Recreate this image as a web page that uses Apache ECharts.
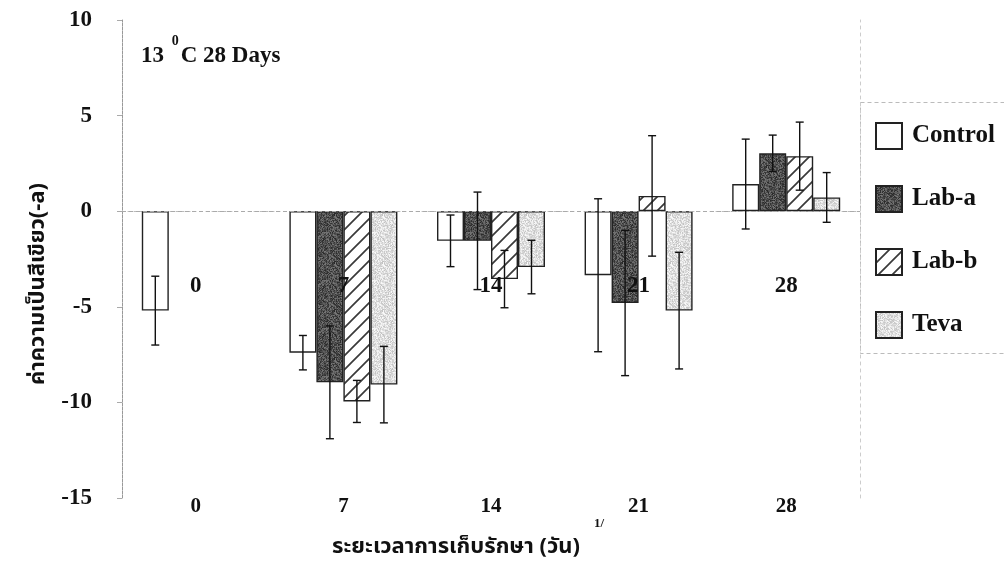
<!DOCTYPE html>
<html>
<head>
<meta charset="utf-8">
<script src="https://cdn.jsdelivr.net/npm/echarts@6/dist/echarts.min.js"></script>
<style>
  html, body { margin: 0; padding: 0; background: #fff; }
  #chart { width: 1004px; height: 566px; }
</style>
</head>
<body>
<div id="chart"></div>
<script>
// Storage days (category axis)
const days = ['0', '7', '14', '21', '28'];
// Greenness (-a) means and standard deviations per treatment
const control    = [-5.2, -7.4, -1.55, -3.35, 1.42];
const controlErr = [1.8, 0.9, 1.35, 4.0, 2.35];
const labA       = [null, -8.95, -1.55, -4.8, 3.03];
const labAErr    = [null, 2.95, 2.55, 3.8, 0.95];
const labB       = [null, -9.95, -3.55, 0.8, 2.88];
const labBErr    = [null, 1.1, 1.5, 3.15, 1.78];
const teva       = [null, -9.07, -2.92, -5.2, 0.72];
const tevaErr    = [null, 2.0, 1.4, 3.05, 1.3];
// Value-axis ticks
const yMin = -15, yMax = 10, yStep = 5;
// Day labels repeated inside the plot
const innerLabels = ['0', '7', '14', '21', '28'];

const SERIF = '"Liberation Serif", "Times New Roman", serif';
const THAI = '"Noto Sans Thai", "Noto Serif Thai", "Loma", "Garuda", "Norasi", "Tlwg Typo", "Noto Sans", sans-serif';
const BAR_W = 27;
const INNER_LABEL_Y = -3.9;

// Texture helpers
function speckle(base, spread, size) {
  const c = document.createElement('canvas');
  c.width = c.height = size;
  const ctx = c.getContext('2d');
  const img = ctx.createImageData(size, size);
  for (let y = 0; y < size; y++) {
    for (let x = 0; x < size; x++) {
      let h = (x * 374761393 + y * 668265263) | 0;
      h = (h ^ (h >>> 13)) * 1274126177 | 0;
      h = (h ^ (h >>> 16)) & 255;
      const v = Math.max(0, Math.min(255, base + Math.round((h / 255 - 0.5) * spread)));
      const i = (y * size + x) * 4;
      img.data[i] = img.data[i + 1] = img.data[i + 2] = v;
      img.data[i + 3] = 255;
    }
  }
  ctx.putImageData(img, 0, 0);
  return c;
}
function hatch(size) {
  const c = document.createElement('canvas');
  c.width = c.height = size;
  const ctx = c.getContext('2d');
  ctx.fillStyle = '#fff';
  ctx.fillRect(0, 0, size, size);
  ctx.strokeStyle = '#3a3a3a';
  ctx.lineWidth = 1.7;
  ctx.beginPath();
  ctx.moveTo(-2, size + 2); ctx.lineTo(size + 2, -2);
  ctx.moveTo(-2, 2); ctx.lineTo(2, -2);
  ctx.moveTo(size - 2, size + 2); ctx.lineTo(size + 2, size - 2);
  ctx.stroke();
  return c;
}

const fills = {
  control: '#ffffff',
  labA: { image: speckle(80, 80, 48), repeat: 'repeat' },
  labB: { image: hatch(14), repeat: 'repeat' },
  teva: { image: speckle(222, 56, 48), repeat: 'repeat' }
};

const groups = [
  { name: 'Control', values: control, errs: controlErr, fill: fills.control },
  { name: 'Lab-a', values: labA, errs: labAErr, fill: fills.labA },
  { name: 'Lab-b', values: labB, errs: labBErr, fill: fills.labB },
  { name: 'Teva', values: teva, errs: tevaErr, fill: fills.teva }
];

const barSeries = groups.map((g, i) => ({
  name: g.name,
  type: 'bar',
  data: g.values,
  barWidth: BAR_W,
  barGap: '0%',
  itemStyle: { color: g.fill, borderColor: '#222', borderWidth: 1.4 },
  z: 2,
  markLine: i === 0 ? {
    silent: true, symbol: 'none', label: { show: false },
    lineStyle: { color: '#aaa', type: [4, 3], width: 1 },
    data: [{ yAxis: 0 }]
  } : undefined
}));

const errSeries = groups.map((g, i) => ({
  type: 'custom',
  name: g.name + ' SD',
  z: 5,
  silent: true,
  data: g.values.map((v, k) => v == null ? null : [k, v, g.errs[k]]).filter(d => d),
  encode: { x: 0, y: 1 },
  renderItem: function (params, api) {
    const k = api.value(0), m = api.value(1), e = api.value(2);
    const off = (i - 1.5) * BAR_W;
    const hi = api.coord([k, m + e]);
    const lo = api.coord([k, m - e]);
    const x = hi[0] + off;
    const st = { stroke: '#111', lineWidth: 1.4 };
    return {
      type: 'group',
      children: [
        { type: 'line', shape: { x1: x, y1: hi[1], x2: x, y2: lo[1] }, style: st },
        { type: 'line', shape: { x1: x - 4, y1: hi[1], x2: x + 4, y2: hi[1] }, style: st },
        { type: 'line', shape: { x1: x - 4, y1: lo[1], x2: x + 4, y2: lo[1] }, style: st }
      ]
    };
  }
}));

const innerLabelSeries = {
  type: 'custom',
  name: 'day labels',
  z: 6,
  silent: true,
  data: innerLabels.map((t, k) => [k, INNER_LABEL_Y]),
  encode: { x: 0, y: 1 },
  renderItem: function (params, api) {
    const p = api.coord([api.value(0), api.value(1)]);
    return {
      type: 'text',
      x: p[0], y: p[1],
      style: {
        text: innerLabels[params.dataIndex],
        fontFamily: SERIF, fontWeight: 'bold', fontSize: 23,
        fill: '#111', align: 'center', verticalAlign: 'middle'
      }
    };
  }
};

const chart = echarts.init(document.getElementById('chart'), null, { renderer: 'canvas' });
chart.setOption({
  animation: false,
  backgroundColor: '#fff',
  grid: { left: 122, right: 144, top: 20, bottom: 68, containLabel: false },
  title: {
    left: 141, top: 34,
    padding: 0,
    text: '{a|13 }{s|0}{a|C 28 Days}',
    textStyle: {
      rich: {
        a: { fontFamily: SERIF, fontWeight: 'bold', fontSize: 23, color: '#111', lineHeight: 34, verticalAlign: 'bottom' },
        s: { fontFamily: SERIF, fontWeight: 'bold', fontSize: 14, color: '#111', lineHeight: 34, verticalAlign: 'top', padding: [0, 2, 0, 2] }
      }
    }
  },
  legend: {
    orient: 'vertical',
    left: 875, top: 122,
    padding: 0,
    itemWidth: 26, itemHeight: 26, itemGap: 35,
    icon: 'rect',
    data: groups.map(g => g.name),
    textStyle: { fontFamily: SERIF, fontWeight: 'bold', fontSize: 25, lineHeight: 26, color: '#111', padding: [0, 0, 0, 5] }
  },
  xAxis: [{
    type: 'category',
    data: days,
    position: 'bottom',
    axisLine: { show: false },
    axisTick: { show: false },
    axisLabel: { margin: -2, fontFamily: SERIF, fontWeight: 'bold', fontSize: 21, color: '#111' }
  }, {
    type: 'category', data: days, position: 'top',
    axisLine: { show: true, lineStyle: { color: '#bbb', type: [2, 4], width: 1 } },
    axisTick: { show: false }, axisLabel: { show: false }
  }],
  yAxis: [{
    type: 'value',
    min: yMin, max: yMax, interval: yStep,
    axisLine: { show: true, lineStyle: { color: '#999', type: [3, 1], width: 1 } },
    axisTick: { show: true, length: 5, lineStyle: { color: '#aaa' } },
    splitLine: { show: false },
    axisLabel: { margin: 30, fontFamily: SERIF, fontWeight: 'bold', fontSize: 23, color: '#111' }
  }, {
    type: 'value', position: 'right',
    min: yMin, max: yMax, interval: yStep,
    axisLine: { show: true, lineStyle: { color: '#ccc', type: [3, 4], width: 1 } },
    axisTick: { show: false }, axisLabel: { show: false }, splitLine: { show: false }
  }],
  graphic: [
    {
      type: 'rect', left: 860, top: 102, z: -1, silent: true,
      shape: { width: 170, height: 251 },
      style: { fill: '#fff', stroke: '#bbb', lineWidth: 1, lineDash: [4, 3] }
    },
    {
      type: 'text', x: 40, y: 284, rotation: Math.PI / 2,
      style: {
        text: 'ค่าความเป็นสีเขียว(-a)',
        font: 'bold 22px ' + THAI, fill: '#111',
        align: 'center', verticalAlign: 'middle'
      }
    },
    {
      type: 'text', x: 456, y: 549,
      style: {
        text: 'ระยะเวลาการเก็บรักษา (วัน)',
        font: 'bold 22px ' + THAI, fill: '#111',
        align: 'center', verticalAlign: 'middle'
      }
    },
    {
      type: 'text', x: 599, y: 524,
      style: { text: '1/', font: 'bold 13px ' + SERIF, fill: '#111', align: 'center', verticalAlign: 'middle' }
    }
  ],
  series: [...barSeries, ...errSeries, innerLabelSeries]
});
</script>
</body>
</html>
